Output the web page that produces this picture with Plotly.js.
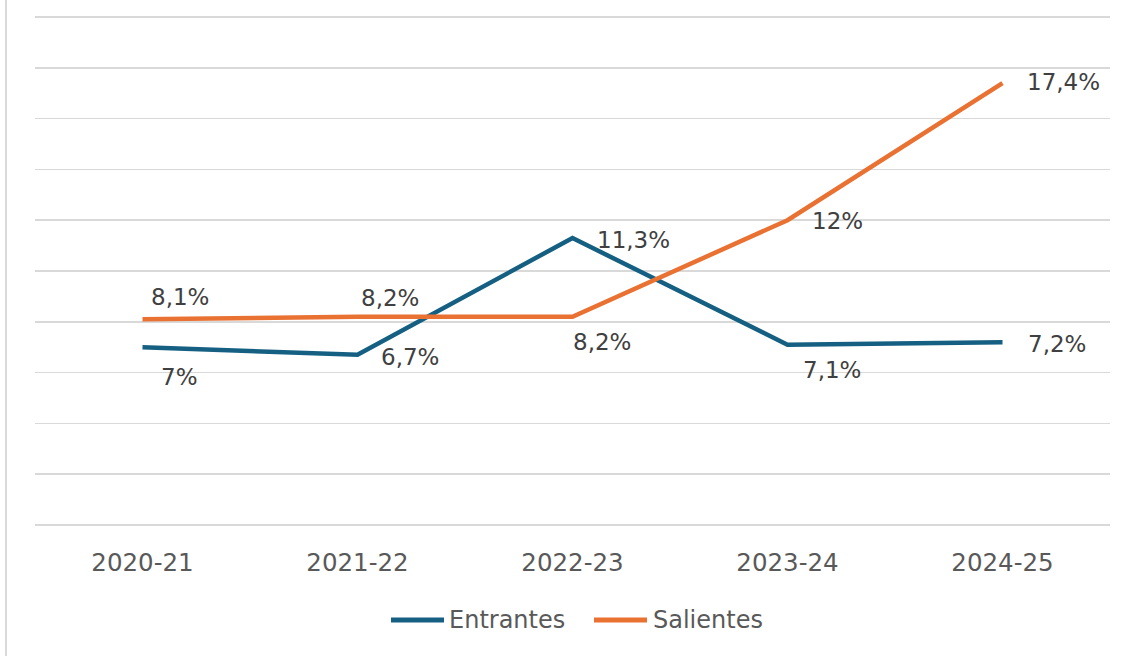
<!DOCTYPE html>
<html>
<head>
<meta charset="utf-8">
<script src="https://cdn.plot.ly/plotly-3.0.1.min.js"></script>
<style>
  html, body { margin: 0; padding: 0; background: #ffffff; }
  #chart { width: 1127px; height: 656px; }
</style>
</head>
<body>
<div id="chart"></div>
<script>
// ---- data ----
const categories = ["2020-21", "2021-22", "2022-23", "2023-24", "2024-25"];
const entrantes = [7, 6.7, 11.3, 7.1, 7.2];
const salientes = [8.1, 8.2, 8.2, 12, 17.4];
const seriesNames = ["Entrantes", "Salientes"];

// ---- label placement (pixel offsets from each point) ----
const entrantesLabelOffsets = [[37, -30], [52, -2], [61, -2], [44, -25], [54, -2]];
const salientesLabelOffsets = [[37, 22], [32, 19], [29, -25], [50, -1], [61, 1]];

const colors = { entrantes: "#156082", salientes: "#E97132" };
const FONT = "DejaVu Sans, Verdana, sans-serif";

function fmt(v) { return String(v).replace(".", ",") + "%"; }

const traces = [
  { x: categories, y: entrantes, name: seriesNames[0], type: "scatter", mode: "lines",
    line: { color: colors.entrantes, width: 4.5 }, hoverinfo: "skip", showlegend: false },
  { x: categories, y: salientes, name: seriesNames[1], type: "scatter", mode: "lines",
    line: { color: colors.salientes, width: 4.5 }, hoverinfo: "skip", showlegend: false }
];

const annotations = [];
function addLabels(vals, offs) {
  vals.forEach((v, i) => {
    annotations.push({
      x: categories[i], y: v, xref: "x", yref: "y", text: fmt(v), showarrow: false,
      xshift: offs[i][0], yshift: offs[i][1], xanchor: "center", yanchor: "middle",
      font: { family: FONT, size: 23, color: "#404040" }
    });
  });
}
addLabels(entrantes, entrantesLabelOffsets);
addLabels(salientes, salientesLabelOffsets);

// ---- custom legend (pixel geometry converted to paper coords) ----
const PL = 35, PW = 1075, PT = 16, PH = 656 - 16 - 131;
const px2x = p => (p - PL) / PW;
const py2y = p => 1 - (p - PT) / PH;
const legendItems = [
  { name: seriesNames[0], color: colors.entrantes, x0: 391, x1: 444, tx: 447 },
  { name: seriesNames[1], color: colors.salientes, x0: 594, x1: 647, tx: 651 }
];
const shapes = [
  { type: "line", xref: "paper", yref: "paper", x0: px2x(6), x1: px2x(6),
    y0: py2y(656), y1: py2y(0), line: { color: "#D9D9D9", width: 2 } }
];
legendItems.forEach(it => {
  shapes.push({ type: "line", xref: "paper", yref: "paper", x0: px2x(it.x0), x1: px2x(it.x1),
    y0: py2y(620), y1: py2y(620), line: { color: it.color, width: 5 } });
  annotations.push({ xref: "paper", yref: "paper", x: px2x(it.tx), y: py2y(620), text: it.name,
    showarrow: false, xanchor: "left", yanchor: "middle",
    font: { family: FONT, size: 24, color: "#595959" } });
});

const layout = {
  width: 1127, height: 656,
  margin: { l: 35, r: 17, t: 16, b: 131, pad: 0 },
  paper_bgcolor: "#ffffff", plot_bgcolor: "#ffffff",
  showlegend: false,
  xaxis: { type: "category", range: [-0.5, 4.5], showgrid: false, zeroline: false, showline: false,
    ticks: "", tickfont: { family: FONT, size: 24.5, color: "#595959" }, ticklabelstandoff: 20, fixedrange: true },
  yaxis: { range: [0, 20.04], dtick: 2, tick0: 0, showticklabels: false, showgrid: true,
    gridcolor: "#D9D9D9", gridwidth: 1.5, zeroline: true, zerolinecolor: "#D9D9D9", zerolinewidth: 1.5,
    showline: false, ticks: "", fixedrange: true },
  annotations: annotations,
  shapes: shapes
};

Plotly.newPlot("chart", traces, layout, { displayModeBar: false, staticPlot: true });
</script>
</body>
</html>
